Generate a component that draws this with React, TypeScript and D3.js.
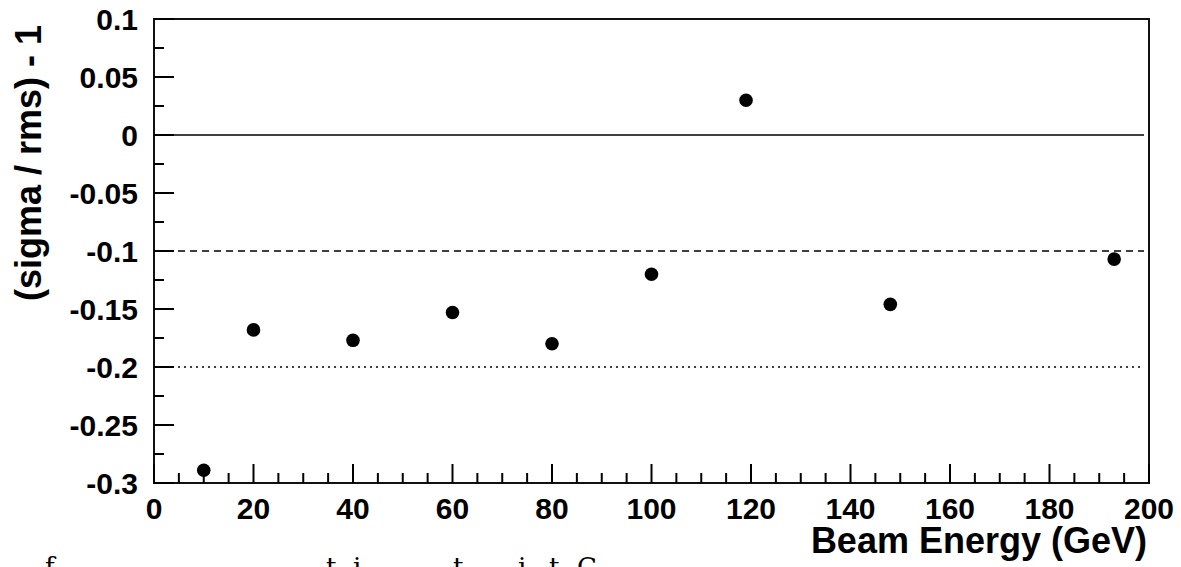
import React from "react";
import * as d3 from "d3";

const beamEnergy: number[] = [10, 20, 40, 60, 80, 100, 119, 148, 193];
const sigmaOverRms: number[] = [-0.289, -0.168, -0.177, -0.153, -0.180, -0.120, 0.030, -0.146, -0.107];
const xTickValues: number[] = [0, 20, 40, 60, 80, 100, 120, 140, 160, 180, 200];
const yTickValues: number[] = [0.1, 0.05, 0, -0.05, -0.1, -0.15, -0.2, -0.25, -0.3];
const yTickLabels: string[] = ["0.1", "0.05", "0", "-0.05", "-0.1", "-0.15", "-0.2", "-0.25", "-0.3"];
const refLines: { value: number; dash: string }[] = [
  { value: 0, dash: "" },
  { value: -0.1, dash: "7,5" },
  { value: -0.2, dash: "2,4" },
];
const captionGlyphs: { ch: string; x: number }[] = [
  { ch: "f", x: 45 },
  { ch: "t", x: 326 },
  { ch: "i", x: 353 },
  { ch: "t", x: 453 },
  { ch: "i", x: 518 },
  { ch: "t", x: 549 },
  { ch: "C", x: 577 },
];

const W = 1181;
const H = 567;
const L = 154, R = 1149, T = 19, B = 483;

export default function App() {
  const x = d3.scaleLinear().domain([0, 200]).range([L, R]);
  const y = d3.scaleLinear().domain([-0.3, 0.1]).range([B, T]);
  const xMinor = d3.range(0, 201, 5).filter((v) => v % 20 !== 0);
  const yMinor = d3.range(-12, 5).map((i) => i * 0.025).filter((v, i) => i % 2 === 1);
  const font = "'Liberation Sans', Arial, Helvetica, sans-serif";
  return (
    <svg
      width={W}
      height={H}
      style={{ position: "absolute", left: 0, top: 0, overflow: "hidden", background: "#fff" }}
    >
      <rect x={0} y={0} width={W} height={H} fill="#fff" />
      {refLines.map((r, i) => (
        <line
          key={"ref" + i}
          x1={x(0)}
          x2={x(199)}
          y1={y(r.value)}
          y2={y(r.value)}
          stroke="#000"
          strokeWidth={1.6}
          strokeDasharray={r.dash || undefined}
        />
      ))}
      <rect x={L} y={T} width={R - L} height={B - T} fill="none" stroke="#111" strokeWidth={2} />
      {xTickValues.map((v) => (
        <line key={"xt" + v} x1={x(v)} x2={x(v)} y1={B} y2={B - 19} stroke="#000" strokeWidth={2} />
      ))}
      {xMinor.map((v) => (
        <line key={"xm" + v} x1={x(v)} x2={x(v)} y1={B} y2={B - 10} stroke="#000" strokeWidth={2} />
      ))}
      {yTickValues.map((v) => (
        <line key={"yt" + v} x1={L} x2={L + 20} y1={y(v)} y2={y(v)} stroke="#000" strokeWidth={2} />
      ))}
      {yMinor.map((v) => (
        <line key={"ym" + v} x1={L} x2={L + 10} y1={y(v)} y2={y(v)} stroke="#000" strokeWidth={2} />
      ))}
      {xTickValues.map((v) => (
        <text
          key={"xl" + v}
          x={x(v)}
          y={519}
          textAnchor="middle"
          fontFamily={font}
          fontWeight="bold"
          fontSize={30}
          fill="#000"
        >
          {String(v)}
        </text>
      ))}
      {yTickValues.map((v, i) => (
        <text
          key={"yl" + v}
          x={138}
          y={y(v) + 11}
          textAnchor="end"
          fontFamily={font}
          fontWeight="bold"
          fontSize={30}
          fill="#000"
        >
          {yTickLabels[i]}
        </text>
      ))}
      {beamEnergy.map((e, i) => (
        <circle key={"p" + i} cx={x(e)} cy={y(sigmaOverRms[i])} r={6.8} fill="#000" />
      ))}
      <text
        x={1147}
        y={553}
        textAnchor="end"
        fontFamily={font}
        fontWeight="bold"
        fontSize={36}
        fill="#000"
      >
        Beam Energy (GeV)
      </text>
      <text
        transform="translate(41,25) rotate(-90)"
        textAnchor="end"
        fontFamily={font}
        fontWeight="bold"
        fontSize={36}
        fill="#000"
      >
        (sigma / rms) - 1
      </text>
      {captionGlyphs.map((g, i) => (
        <text
          key={"c" + i}
          x={g.x}
          y={576}
          fontFamily="'DejaVu Serif', 'Liberation Serif', serif"
          fontSize={26}
          fill="#000"
        >
          {g.ch}
        </text>
      ))}
    </svg>
  );
}
